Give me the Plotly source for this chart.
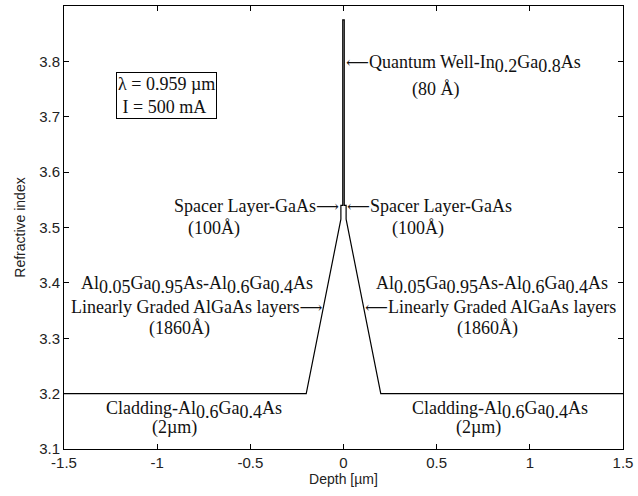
import plotly.graph_objects as go

# Refractive index profile (depth in µm)
depth = [-1.5, -0.2, -0.014, -0.014, -0.004, -0.004, 0.004, 0.004, 0.014, 0.014, 0.2, 1.5]
index = [3.2, 3.2, 3.515, 3.54, 3.54, 3.875, 3.875, 3.54, 3.54, 3.515, 3.2, 3.2]

x_ticks = [-1.5, -1, -0.5, 0, 0.5, 1, 1.5]
x_tick_labels = ["-1.5", "-1", "-0.5", "0", "0.5", "1", "1.5"]
y_ticks = [3.1, 3.2, 3.3, 3.4, 3.5, 3.6, 3.7, 3.8]
y_tick_labels = ["3.1", "3.2", "3.3", "3.4", "3.5", "3.6", "3.7", "3.8"]

fig = go.Figure()
fig.add_trace(go.Scatter(x=depth, y=index, mode="lines",
                         line=dict(color="black", width=1.2), showlegend=False,
                         hoverinfo="skip"))

serif = "Liberation Serif, Times New Roman, serif"
tf = dict(family=serif, size=18, color="#111")

def sub(s):
    return "<sub><span style='font-size:18px'>" + s + "</span></sub>"

LA = "<span style='font-family:DejaVu Serif;font-size:16px'>⟵</span>"
RA = "<span style='font-family:DejaVu Serif;font-size:16px'>⟶</span>"

def ann(x, y, text, xanchor="center", **kw):
    fig.add_annotation(x=x, y=y, xref="x", yref="y", text=text, showarrow=False,
                       xanchor=xanchor, yanchor="middle", font=tf, **kw)

# Info box
ann(-1.223, 3.738, "λ = 0.959 µm<br> I = 500 mA", xanchor="left", align="left",
    bordercolor="black", borderwidth=1, borderpad=1)

# Quantum well
ann(0.003, 3.795, LA + "Quantum Well-In" + sub("0.2") + "Ga" + sub("0.8") + "As", xanchor="left")
ann(0.497, 3.750, "(80 Å)")

# Spacers
ann(-0.012, 3.538, "Spacer Layer-GaAs" + RA, xanchor="right")
ann(-0.694, 3.498, "(100Å)")
ann(0.009, 3.538, LA + "Spacer Layer-GaAs", xanchor="left")
ann(0.400, 3.498, "(100Å)")

# Graded layers
graded = "Al" + sub("0.05") + "Ga" + sub("0.95") + "As-Al" + sub("0.6") + "Ga" + sub("0.4") + "As"
ann(-0.785, 3.396, graded)
ann(-0.106, 3.356, "Linearly Graded AlGaAs layers" + RA, xanchor="right")
ann(-0.881, 3.318, "(1860Å)")
ann(0.796, 3.396, graded)
ann(0.106, 3.356, LA + "Linearly Graded AlGaAs layers", xanchor="left")
ann(0.774, 3.318, "(1860Å)")

# Cladding
clad = "Cladding-Al" + sub("0.6") + "Ga" + sub("0.4") + "As"
ann(-0.80, 3.170, clad)
ann(-0.908, 3.138, "(2µm)")
ann(0.84, 3.170, clad)
ann(0.726, 3.138, "(2µm)")

sans = "Liberation Sans, Arial, Helvetica, sans-serif"
axis_common = dict(showline=True, linecolor="black", linewidth=1, mirror="ticks",
                   ticks="inside", ticklen=5, tickcolor="black", showgrid=False,
                   zeroline=False, tickfont=dict(family=sans, size=15, color="#222"))

fig.update_xaxes(range=[-1.5, 1.5], tickvals=x_ticks, ticktext=x_tick_labels,
                 title=dict(text="Depth [µm]", font=dict(family=sans, size=14, color="#222"),
                            standoff=2), **axis_common)
fig.update_yaxes(range=[3.1, 3.9], tickvals=y_ticks, ticktext=y_tick_labels,
                 title=dict(text="Refractive index", font=dict(family=sans, size=14, color="#222"),
                            standoff=10), **axis_common)

fig.update_layout(width=638, height=496, margin=dict(l=64, r=12, t=5, b=47),
                  paper_bgcolor="white", plot_bgcolor="white")

fig.write_html("out.html")
